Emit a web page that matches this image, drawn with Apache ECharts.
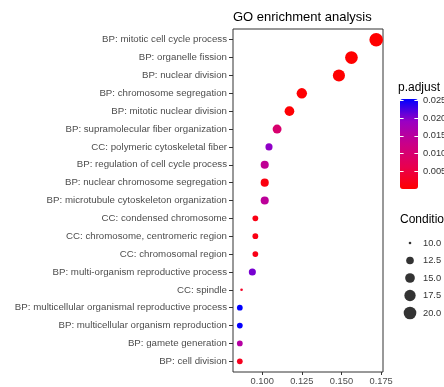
<!DOCTYPE html>
<html>
<head>
<meta charset="utf-8">
<script src="https://cdn.jsdelivr.net/npm/echarts@6/dist/echarts.min.js"></script>
<style>
html,body{margin:0;padding:0;background:#fff;}
#chart{width:444px;height:387px;}
</style>
</head>
<body>
<div id="chart"></div>
<script>
const categories = [
  'BP: mitotic cell cycle process',
  'BP: organelle fission',
  'BP: nuclear division',
  'BP: chromosome segregation',
  'BP: mitotic nuclear division',
  'BP: supramolecular fiber organization',
  'CC: polymeric cytoskeletal fiber',
  'BP: regulation of cell cycle process',
  'BP: nuclear chromosome segregation',
  'BP: microtubule cytoskeleton organization',
  'CC: condensed chromosome',
  'CC: chromosome, centromeric region',
  'CC: chromosomal region',
  'BP: multi-organism reproductive process',
  'CC: spindle',
  'BP: multicellular organismal reproductive process',
  'BP: multicellular organism reproduction',
  'BP: gamete generation',
  'BP: cell division'
];
const geneRatio = [0.1719, 0.1563, 0.1484, 0.1250, 0.1172, 0.1094, 0.1043, 0.1016, 0.1016, 0.1016,
                   0.0957, 0.0957, 0.0957, 0.0938, 0.0870, 0.0859, 0.0859, 0.0859, 0.0859];
const counts = [22, 20, 19, 16, 15, 14, 12, 13, 13, 13, 11, 11, 11, 12, 10, 11, 11, 11, 11];
const pAdjust = [0.00002, 0.00003, 0.00002, 0.0002, 0.0003, 0.0098, 0.0195, 0.0140, 0.0012, 0.0145,
                 0.0015, 0.0015, 0.0018, 0.0205, 0.0030, 0.0254, 0.0252, 0.0155, 0.0025];
const xTicks = [0.100, 0.125, 0.150, 0.175];
const colorTicks = [0.005, 0.010, 0.015, 0.020, 0.025];
const sizeBreaks = [10, 12.5, 15, 17.5, 20];
const sizeLabels = ['10.0', '12.5', '15.0', '17.5', '20.0'];

const FONT = "'Liberation Sans', Arial, sans-serif";
const cMin = Math.min(...counts), cMax = Math.max(...counts);
function dotSize(c) {
  const t = Math.max(0, (c - cMin) / (cMax - cMin));
  return 2.6 + 11 * Math.sqrt(t);
}
const rowIdx = categories.map((_, i) => i + 1);
const mainData = categories.map((c, i) => [geneRatio[i], i + 1, counts[i], pAdjust[i]]);
const legendData = sizeBreaks.map((s, i) => [0, i, s]);

const chart = echarts.init(document.getElementById('chart'), null, {renderer: 'canvas'});
const option = {
  animation: false,
  backgroundColor: '#fff',
  textStyle: {fontFamily: FONT},
  title: [
    {text: 'GO enrichment analysis', left: 233, top: 11, padding: 0,
     textStyle: {fontSize: 13, fontWeight: 'normal', color: '#000', fontFamily: FONT}},
    {text: 'p.adjust', left: 398, top: 82, padding: 0,
     textStyle: {fontSize: 12, fontWeight: 'normal', color: '#000', fontFamily: FONT}},
    {text: 'Condition', left: 400, top: 214, padding: 0,
     textStyle: {fontSize: 12, fontWeight: 'normal', color: '#000', fontFamily: FONT}}
  ],
  grid: [
    {left: 233, top: 29, width: 150, height: 343, show: true, borderColor: '#333', borderWidth: 1,
     backgroundColor: '#fff', containLabel: false, outerBoundsMode: 'none'},
    {left: 400, top: 99, width: 18, height: 90, containLabel: false, outerBoundsMode: 'none'},
    {left: 403, top: 243, width: 14, height: 70, containLabel: false, outerBoundsMode: 'none'}
  ],
  xAxis: [
    {type: 'value', gridIndex: 0, min: 0.0816, max: 0.1762,
     axisLine: {show: false}, splitLine: {show: false},
     axisTick: {show: true, length: 3, lineStyle: {color: '#333'}, customValues: xTicks},
     axisLabel: {customValues: xTicks, formatter: v => v.toFixed(3), fontSize: 9.3, color: '#4d4d4d', margin: 5, fontFamily: FONT}},
    {type: 'value', gridIndex: 1, min: 0, max: 1, show: false},
    {type: 'value', gridIndex: 2, min: -1, max: 1, show: false}
  ],
  yAxis: [
    {type: 'value', gridIndex: 0, min: 0.4, max: 19.6, inverse: true,
     axisLine: {show: false}, splitLine: {show: false},
     axisTick: {show: true, length: 4, lineStyle: {color: '#333'}, customValues: rowIdx},
     axisLabel: {customValues: rowIdx, formatter: v => categories[Math.round(v) - 1], fontSize: 9.7, color: '#4d4d4d', margin: 6, fontFamily: FONT}},
    {type: 'value', gridIndex: 1, min: 0, max: 0.0254, position: 'left', z: 10,
     axisLine: {show: false}, splitLine: {show: false},
     axisTick: {show: true, inside: true, length: 3.6, lineStyle: {color: '#fff', width: 1}, customValues: colorTicks},
     axisLabel: {show: false}},
    {type: 'value', gridIndex: 1, min: 0, max: 0.0254, position: 'right', z: 10,
     axisLine: {show: false}, splitLine: {show: false},
     axisTick: {show: true, inside: true, length: 3.6, lineStyle: {color: '#fff', width: 1}, customValues: colorTicks},
     axisLabel: {customValues: colorTicks, formatter: v => v.toFixed(3), fontSize: 9.3, color: '#333', margin: 5, fontFamily: FONT}},
    {type: 'value', gridIndex: 2, min: 0, max: 4, inverse: true, position: 'right',
     axisLine: {show: false}, splitLine: {show: false}, axisTick: {show: false},
     axisLabel: {customValues: [0, 1, 2, 3, 4], formatter: v => sizeLabels[Math.round(v)], fontSize: 9.3, color: '#333', margin: 6, fontFamily: FONT}}
  ],
  visualMap: {
    type: 'continuous', min: 0, max: 0.0254, dimension: 3, seriesIndex: 0,
    left: 400, top: 99, itemWidth: 18, itemHeight: 90, padding: 0,
    calculable: false, hoverLink: false, orient: 'vertical',
    inRange: {color: ['#FF0000', '#E80050', '#CA0088', '#9A00C3', '#0000FF']}
  },
  series: [
    {type: 'scatter', xAxisIndex: 0, yAxisIndex: 0, data: mainData,
     symbol: 'circle', symbolSize: v => dotSize(v[2]), itemStyle: {opacity: 1}},
    {type: 'scatter', xAxisIndex: 2, yAxisIndex: 3, data: legendData,
     symbol: 'circle', symbolSize: v => dotSize(v[2]), itemStyle: {color: '#000'}}
  ]
};
chart.setOption(option);
</script>
</body>
</html>
